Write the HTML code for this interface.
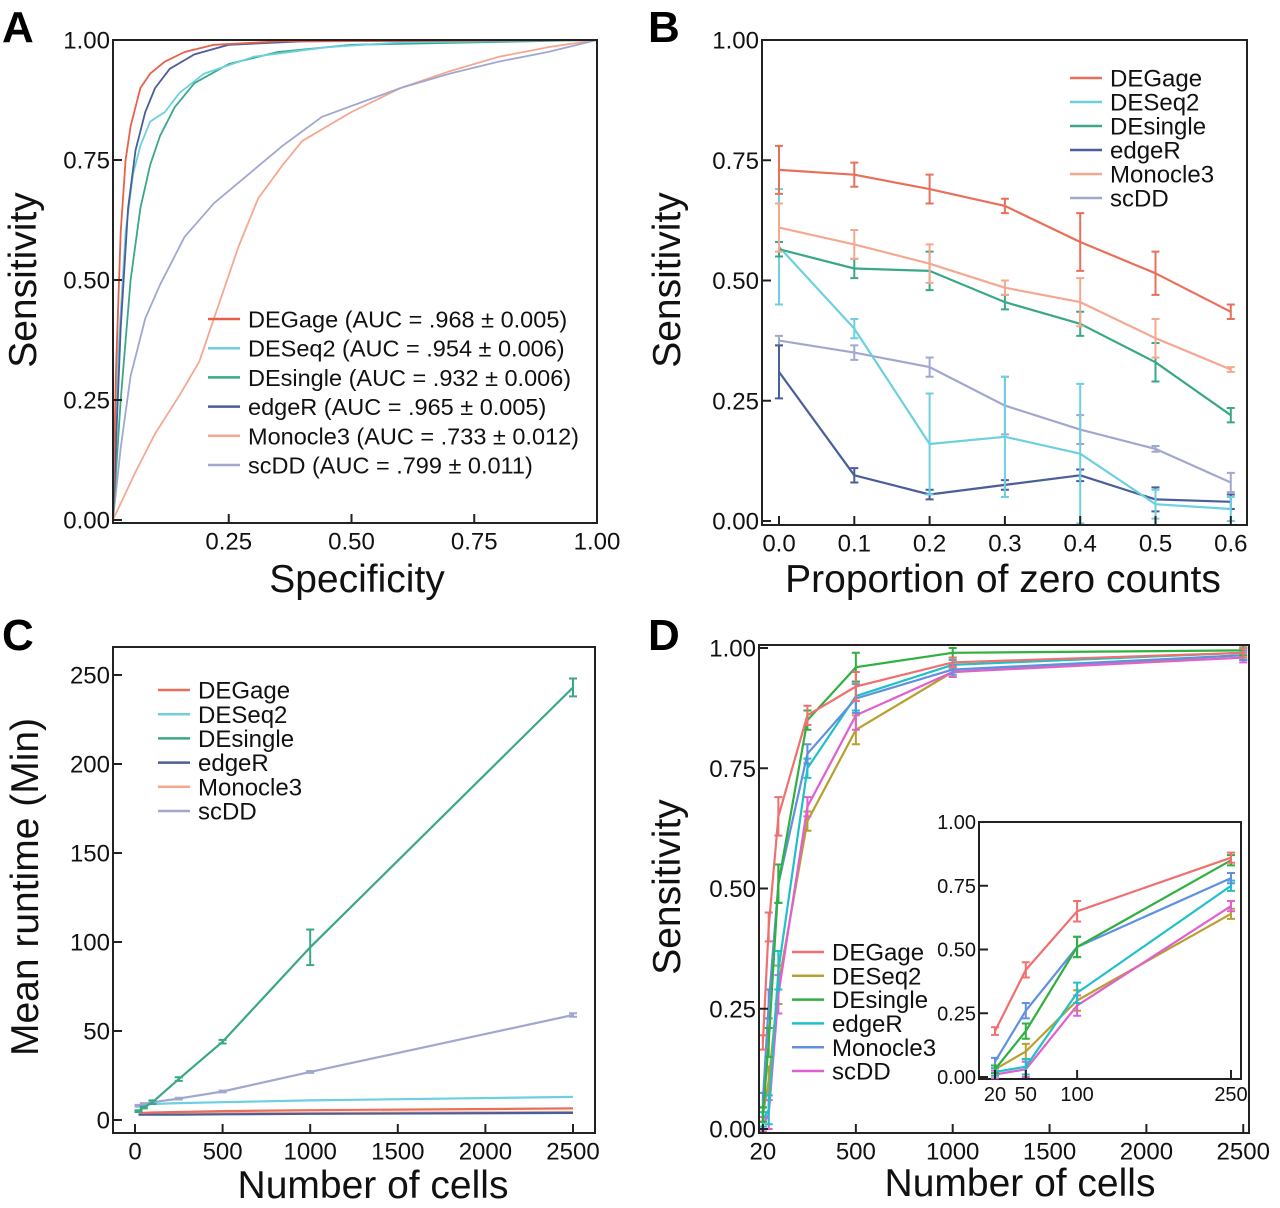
<!DOCTYPE html>
<html><head><meta charset="utf-8">
<style>
html,body{margin:0;padding:0;background:#fff;}
svg{display:block;font-family:"Liberation Sans",Arial,sans-serif;}
</style></head>
<body>
<svg id="fig" width="1280" height="1208" viewBox="0 0 1280 1208" xmlns="http://www.w3.org/2000/svg">
<text x="2" y="42" font-size="44" font-weight="bold">A</text>
<text x="648" y="42" font-size="44" font-weight="bold">B</text>
<text x="2" y="650" font-size="44" font-weight="bold">C</text>
<text x="648" y="650" font-size="44" font-weight="bold">D</text>
</svg>
<script>
// ---------- Panel A data (ROC) ----------
const aNames = ["DEGage","DESeq2","DEsingle","edgeR","Monocle3","scDD"];
const aAUC = ["DEGage (AUC = .968 \u00b1 0.005)","DESeq2 (AUC = .954 \u00b1 0.006)","DEsingle (AUC = .932 \u00b1 0.006)","edgeR (AUC = .965 \u00b1 0.005)","Monocle3 (AUC = .733 \u00b1 0.012)","scDD (AUC = .799 \u00b1 0.011)"];
const rocDEGageX = [0.014,0.02,0.03,0.04,0.05,0.06,0.07,0.09,0.12,0.16,0.22,0.35,1];
const rocDEGageY = [0,0.3,0.6,0.75,0.82,0.86,0.9,0.93,0.955,0.975,0.99,0.997,1];
const rocDESeq2X = [0.014,0.025,0.04,0.055,0.07,0.09,0.12,0.15,0.2,0.3,0.45,0.6,1];
const rocDESeq2Y = [0,0.35,0.6,0.72,0.78,0.83,0.85,0.89,0.93,0.965,0.985,0.995,1];
const rocDEsingleX = [0.014,0.03,0.05,0.07,0.09,0.11,0.14,0.18,0.25,0.35,0.5,1];
const rocDEsingleY = [0,0.25,0.5,0.65,0.74,0.8,0.86,0.91,0.95,0.975,0.99,1];
const rocEdgeRX = [0.014,0.03,0.045,0.06,0.08,0.1,0.13,0.18,0.25,0.4,1];
const rocEdgeRY = [0,0.4,0.65,0.77,0.85,0.9,0.94,0.97,0.99,0.997,1];
const rocMonocle3X = [0.014,0.06,0.1,0.15,0.19,0.23,0.27,0.31,0.36,0.4,0.5,0.6,0.7,0.8,0.9,1];
const rocMonocle3Y = [0,0.1,0.18,0.26,0.33,0.45,0.57,0.67,0.74,0.79,0.85,0.9,0.935,0.965,0.985,1];
const rocScDDX = [0.014,0.03,0.05,0.08,0.11,0.16,0.22,0.29,0.36,0.44,0.52,0.6,0.7,0.8,0.9,1];
const rocScDDY = [0,0.15,0.3,0.42,0.49,0.59,0.66,0.72,0.78,0.84,0.87,0.9,0.93,0.955,0.975,1];
const aXTicks = ["0.25","0.50","0.75","1.00"];
const aXTickVals = [0.25,0.5,0.75,1];
const yTicks = ["0.00","0.25","0.50","0.75","1.00"];
const yTickVals = [0,0.25,0.5,0.75,1];

// ---------- Panel B data ----------
const bX = [0,0.1,0.2,0.3,0.4,0.5,0.6];
const bXTicks = ["0.0","0.1","0.2","0.3","0.4","0.5","0.6"];
const bDEGage = [0.73,0.72,0.69,0.655,0.58,0.515,0.435];
const bDEGageErr = [0.05,0.025,0.03,0.015,0.06,0.045,0.015];
const bDESeq2 = [0.57,0.40,0.16,0.175,0.14,0.035,0.025];
const bDESeq2Err = [0.12,0.02,0.105,0.125,0.145,0.03,0.025];
const bDEsingle = [0.565,0.525,0.52,0.455,0.41,0.33,0.22];
const bDEsingleErr = [0.015,0.02,0.04,0.015,0.025,0.04,0.015];
const bEdgeR = [0.31,0.095,0.055,0.075,0.095,0.045,0.04];
const bEdgeRErr = [0.055,0.015,0.01,0.01,0.012,0.025,0.015];
const bMonocle3 = [0.61,0.575,0.535,0.485,0.455,0.38,0.315];
const bMonocle3Err = [0.05,0.03,0.04,0.015,0.05,0.04,0.005];
const bScDD = [0.375,0.35,0.32,0.24,0.19,0.15,0.08];
const bScDDErr = [0.01,0.015,0.02,0.06,0.03,0.006,0.02];

// ---------- Panel C data ----------
const cX = [20,50,100,250,500,1000,2500];
const cXTicks = ["0","500","1000","1500","2000","2500"];
const cXTickVals = [0,500,1000,1500,2000,2500];
const cYTicks = ["0","50","100","150","200","250"];
const cYTickVals = [0,50,100,150,200,250];
const cDEGage = [4,4,4.2,4.5,5,5.5,6.5];
const cDESeq2 = [8,8.5,9,9.5,10,11,13];
const cDEsingle = [5,7,10,23,44,97,243];
const cDEsingleErr = [0.5,0.5,1,1,1,10,5];
const cEdgeR = [3,3,3,3,3.2,3.5,4];
const cMonocle3 = [3.5,3.5,3.6,3.7,3.8,4,4.5];
const cScDD = [8,9,10,12,16,27,59];
const cScDDErr = [0.5,0.5,0.5,0.5,0.5,0.5,1];

// ---------- Panel D data ----------
const dX = [20,50,100,250,500,1000,2500];
const dXTicks = ["20","500","1000","1500","2000","2500"];
const dXTickVals = [20,500,1000,1500,2000,2500];
const dDEGage = [0.18,0.42,0.65,0.86,0.92,0.97,0.99];
const dDESeq2 = [0.03,0.10,0.30,0.64,0.83,0.95,0.985];
const dDEsingle = [0.03,0.18,0.51,0.85,0.96,0.99,0.995];
const dEdgeR = [0.02,0.04,0.33,0.75,0.90,0.965,0.99];
const dMonocle3 = [0.06,0.26,0.51,0.78,0.895,0.955,0.985];
const dScDD = [0.01,0.03,0.28,0.67,0.86,0.95,0.98];
const dErr = [0.015,0.03,0.04,0.02,0.03,0.01,0.01];
const insetXTicks = ["20","50","100","250"];
const insetXTickVals = [20,50,100,250];

const NS = "http://www.w3.org/2000/svg";
const svg = document.getElementById('fig');
function mk(tag, attrs, parent){ const e=document.createElementNS(NS,tag); for(const k in attrs) e.setAttribute(k,attrs[k]); (parent||svg).appendChild(e); return e; }
function txt(x,y,s,size,anchor,parent){ const t=mk('text',{x:x,y:y,'font-size':size,'text-anchor':anchor||'middle',fill:'#111'},parent); t.textContent=s; return t; }

const colB = {DEGage:"#e8705a",DESeq2:"#6cd0e0",DEsingle:"#3aa888",edgeR:"#4a5e9a",Monocle3:"#f5a890",scDD:"#a0a8d0"};
const colD = {DEGage:"#f07070",DESeq2:"#b8a030",DEsingle:"#30b040",edgeR:"#20c0c8",Monocle3:"#6090e0",scDD:"#e060d0"};

function frame(x0,y0,x1,y1,name){
  const r = mk('rect',{x:x0,y:y0,width:x1-x0,height:y1-y0,fill:'none',stroke:'#222','stroke-width':2});
  
  
}
function yAxis(xs,ys,vals,labels,xEdge,size,name){
  const g=mk('g',{});
  
  
  vals.forEach((v,i)=>{ const y=ys(v); mk('line',{x1:xEdge,x2:xEdge+9,y1:y,y2:y,stroke:'#222','stroke-width':2},g); txt(xEdge-3,y+size*0.36,labels[i],size,'end',g); });
}
function xAxis(xs,vals,labels,yEdge,size,name){
  const g=mk('g',{});
  
  
  vals.forEach((v,i)=>{ const x=xs(v); mk('line',{x1:x,x2:x,y1:yEdge,y2:yEdge-9,stroke:'#222','stroke-width':2},g); txt(x,yEdge+size*1.1,labels[i],size,'middle',g); });
}
function series(xs,ys,X,Y,color,name,err,width){
  const d = X.map((x,i)=>(i?'L':'M')+xs(x).toFixed(1)+','+ys(Y[i]).toFixed(1)).join(' ');
  const p = mk('path',{d:d,fill:'none',stroke:color,'stroke-width':width||2.2,'stroke-linejoin':'round'});
  
  
  if(err){ X.forEach((x,i)=>{ const e=err[i]; if(!e) return; const cx=xs(x), a=ys(Y[i]+e), b=ys(Y[i]-e);
    const eb=mk('path',{d:`M${cx},${a} V${b} M${cx-4},${a} H${cx+4} M${cx-4},${b} H${cx+4}`,stroke:color,'stroke-width':2,fill:'none'});
    
    
  }); }
}
function legend(x,y0,dy,names,labels,cols,size,name){
  const g=mk('g',{});
  
  
  names.forEach((n,i)=>{ const y=y0+i*dy; mk('line',{x1:x,x2:x+32,y1:y,y2:y,stroke:cols[n],'stroke-width':2.5},g); txt(x+40,y+size*0.36,labels[i],size,'start',g); });
}
function title(x,y,s,rot,name){
  const t=txt(x,y,s,39,'middle'); if(rot) t.setAttribute('transform',`rotate(-90 ${x} ${y})`);
  
  
}

// ===== Panel A =====
{
  const xs=v=>106+491*v, ys=v=>520-480*v;
  const colA = {DEGage:"#e8604a",DESeq2:"#6cd0e0",DEsingle:"#3aa888",edgeR:"#4a5e9a",Monocle3:"#f5a890",scDD:"#a0a8d0"};
  series(xs,ys,rocMonocle3X,rocMonocle3Y,colA.Monocle3,'roc-monocle3',null,1.8);
  series(xs,ys,rocScDDX,rocScDDY,colA.scDD,'roc-scdd',null,1.8);
  series(xs,ys,rocDEsingleX,rocDEsingleY,colA.DEsingle,'roc-desingle',null,1.8);
  series(xs,ys,rocDESeq2X,rocDESeq2Y,colA.DESeq2,'roc-deseq2',null,1.8);
  series(xs,ys,rocEdgeRX,rocEdgeRY,colA.edgeR,'roc-edger',null,1.8);
  series(xs,ys,rocDEGageX,rocDEGageY,colA.DEGage,'roc-degage',null,1.8);
  frame(113,40,597,523,'plot-frame-a');
  yAxis(xs,ys,yTickVals,yTicks,113,24,'y-axis-a');
  xAxis(xs,aXTickVals,aXTicks,523,24,'x-axis-a');
  legend(208,319,29.2,aNames,aAUC,colA,23.5,'legend-a');
  title(36,280,'Sensitivity',true,'y-axis-title-a');
  title(357,592,'Specificity',false,'x-axis-title-a');
}
// ===== Panel B =====
{
  const xs=v=>779+753*v, ys=v=>521-481*v;
  series(xs,ys,bX,bScDD,colB.scDD,'line-b-scdd',bScDDErr);
  series(xs,ys,bX,bEdgeR,colB.edgeR,'line-b-edger',bEdgeRErr);
  series(xs,ys,bX,bDESeq2,colB.DESeq2,'line-b-deseq2',bDESeq2Err);
  series(xs,ys,bX,bDEsingle,colB.DEsingle,'line-b-desingle',bDEsingleErr);
  series(xs,ys,bX,bMonocle3,colB.Monocle3,'line-b-monocle3',bMonocle3Err);
  series(xs,ys,bX,bDEGage,colB.DEGage,'line-b-degage',bDEGageErr);
  frame(762,40,1247,525,'plot-frame-b');
  yAxis(xs,ys,yTickVals,yTicks,762,24,'y-axis-b');
  xAxis(xs,bX,bXTicks,525,24,'x-axis-b');
  legend(1070,78,24,aNames,aNames,colB,24,'legend-b');
  title(680,280,'Sensitivity',true,'y-axis-title-b');
  title(1003,592,'Proportion of zero counts',false,'x-axis-title-b');
}
// ===== Panel C =====
{
  const xs=v=>135+0.1752*v, ys=v=>1120-1.78*v;
  series(xs,ys,cX,cMonocle3,colB.Monocle3,'line-c-monocle3');
  series(xs,ys,cX,cEdgeR,colB.edgeR,'line-c-edger');
  series(xs,ys,cX,cDEGage,colB.DEGage,'line-c-degage');
  series(xs,ys,cX,cDESeq2,colB.DESeq2,'line-c-deseq2');
  series(xs,ys,cX,cScDD,colB.scDD,'line-c-scdd',cScDDErr);
  series(xs,ys,cX,cDEsingle,colB.DEsingle,'line-c-desingle',cDEsingleErr);
  frame(113,647,595,1133,'plot-frame-c');
  yAxis(xs,ys,cYTickVals,cYTicks,113,24,'y-axis-c');
  xAxis(xs,cXTickVals,cXTicks,1133,24,'x-axis-c');
  legend(158,690,24.2,aNames,aNames,colB,24,'legend-c');
  title(38,887,'Mean runtime (Min)',true,'y-axis-title-c');
  title(373,1198,'Number of cells',false,'x-axis-title-c');
}
// ===== Panel D =====
{
  const xs=v=>759+0.1937*v, ys=v=>1129-481*v;
  const sets=[[dDESeq2,'DESeq2'],[dScDD,'scDD'],[dEdgeR,'edgeR'],[dMonocle3,'Monocle3'],[dDEsingle,'DEsingle'],[dDEGage,'DEGage']];
  sets.forEach(s=>series(xs,ys,dX,s[0],colD[s[1]],'line-d-'+s[1].toLowerCase(),dErr));
  frame(759,645,1249,1133,'plot-frame-d');
  yAxis(xs,ys,yTickVals,yTicks,759,24,'y-axis-d');
  xAxis(xs,dXTickVals,dXTicks,1133,24,'x-axis-d');
  legend(792,952,23.8,aNames,aNames,colD,24,'legend-d');
  title(680,887,'Sensitivity',true,'y-axis-title-d');
  title(1020,1196,'Number of cells',false,'x-axis-title-d');
  // inset
  const ix=v=>974.5+1.026*v, iy=v=>1077-255*v;
  const bg=mk('rect',{x:979,y:822,width:262,height:257,fill:'#fff',stroke:'#222','stroke-width':2});
  
  
  const n=4;
  sets.forEach(s=>series(ix,iy,dX.slice(0,n),s[0].slice(0,n),colD[s[1]],'inset-line-'+s[1].toLowerCase(),dErr.slice(0,n)));
  yAxis(ix,iy,yTickVals,yTicks,979,20,'inset-y-axis');
  xAxis(ix,insetXTickVals,insetXTicks,1079,20,'inset-x-axis');
}
</script>
</body></html>
